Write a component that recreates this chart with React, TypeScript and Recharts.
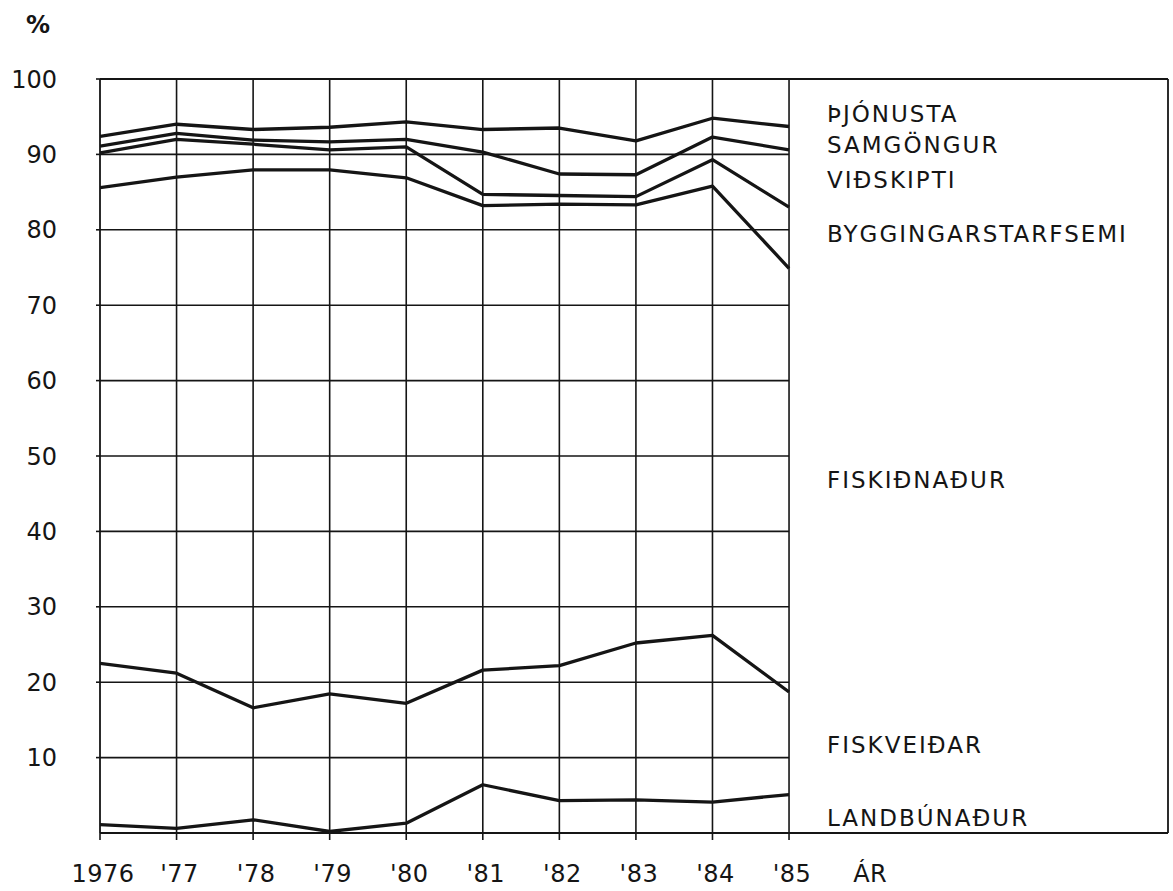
import React from 'react';
import { LineChart, Line, XAxis, YAxis, ReferenceLine } from 'recharts';

// Years on the horizontal axis
const years = [1976, 1977, 1978, 1979, 1980, 1981, 1982, 1983, 1984, 1985];
const xTickLabels = ['1976', "'77", "'78", "'79", "'80", "'81", "'82", "'83", "'84", "'85"];
const xAxisTitle = 'ÁR';
const yAxisTitle = '%';
const yTicks = [10, 20, 30, 40, 50, 60, 70, 80, 90, 100];
const gridYValues = [10, 20, 30, 40, 50, 60, 70, 80, 90];

// Cumulative shares (%) — each line is the upper boundary of the named sector
const cumLandbunadur = [1.1, 0.6, 1.75, 0.2, 1.3, 6.4, 4.3, 4.4, 4.1, 5.1];
const cumFiskveidar = [22.5, 21.2, 16.6, 18.45, 17.2, 21.6, 22.2, 25.2, 26.2, 18.7];
const cumFiskidnadur = [85.6, 87.0, 87.95, 87.95, 86.9, 83.2, 83.4, 83.3, 85.8, 74.9];
const cumByggingar = [90.2, 92.0, 91.35, 90.6, 91.0, 84.7, 84.55, 84.4, 89.3, 83.0];
const cumVidskipti = [91.1, 92.8, 91.9, 91.65, 92.0, 90.3, 87.4, 87.3, 92.3, 90.6];
const cumSamgongur = [92.4, 94.0, 93.3, 93.6, 94.3, 93.3, 93.5, 91.8, 94.8, 93.7];

// Sector names (top to bottom)
const sectorLabels = ['ÞJÓNUSTA', 'SAMGÖNGUR', 'VIÐSKIPTI', 'BYGGINGARSTARFSEMI', 'FISKIÐNAÐUR', 'FISKVEIÐAR', 'LANDBÚNAÐUR'];

const seriesKeys = ['cumLandbunadur', 'cumFiskveidar', 'cumFiskidnadur', 'cumByggingar', 'cumVidskipti', 'cumSamgongur'];
const seriesValues = [cumLandbunadur, cumFiskveidar, cumFiskidnadur, cumByggingar, cumVidskipti, cumSamgongur];

const data = years.map((year, i) => {
  const row: Record<string, number> = { year };
  seriesKeys.forEach((k, j) => {
    row[k] = seriesValues[j][i];
  });
  return row;
});

const INK = '#151515';
const FONT = '"DejaVu Sans", sans-serif';
const X_MAX = 1989.95;
const AR_POS = 1986.06;

// label layout (baselines in px), separate from data
const labelX = 827;
const labelBaselines = [122, 153, 188, 241.5, 488, 753, 826];

function XTick(props: any) {
  const { x, y, payload } = props;
  const idx = years.indexOf(payload.value);
  const isYear = idx >= 0;
  return (
    <g>
      {isYear && <line x1={x} x2={x} y1={y} y2={y + 7} stroke={INK} strokeWidth={1.6} />}
      <text
        x={isYear ? x + 3 : x}
        y={y + 49}
        textAnchor="middle"
        fontSize={24}
        fontFamily={FONT}
        fill={INK}
        letterSpacing={0.5}
      >
        {isYear ? xTickLabels[idx] : xAxisTitle}
      </text>
    </g>
  );
}

export default function App() {
  return (
    <div style={{ position: 'absolute', left: 0, top: 0, width: 1173, height: 891, background: '#fff' }}>
      <LineChart
        width={1173}
        height={891}
        data={data}
        margin={{ top: 79, right: 5, bottom: 0, left: 0 }}
      >
        <XAxis
          type="number"
          dataKey="year"
          domain={[1976, X_MAX]}
          ticks={[...years, AR_POS]}
          interval={0}
          axisLine={false}
          tickLine={false}
          tickSize={0}
          tickMargin={0}
          height={58}
          tick={<XTick />}
          allowDataOverflow
        />
        <YAxis
          type="number"
          domain={[0, 100]}
          ticks={yTicks}
          interval={0}
          width={100}
          axisLine={{ stroke: INK, strokeWidth: 1.8 }}
          tickLine={{ stroke: INK, strokeWidth: 1.6 }}
          tickSize={4}
          tickMargin={39}
          tick={{ fontSize: 24, fontFamily: FONT, fill: INK }}
          allowDataOverflow
        />
        {gridYValues.map((v) => (
          <ReferenceLine
            key={'h' + v}
            segment={[{ x: 1976, y: v }, { x: 1985, y: v }]}
            stroke={INK}
            strokeWidth={1.6}
            ifOverflow="visible"
          />
        ))}
        {years.slice(1).map((yr) => (
          <ReferenceLine
            key={'v' + yr}
            segment={[{ x: yr, y: 0 }, { x: yr, y: 100 }]}
            stroke={INK}
            strokeWidth={1.6}
            ifOverflow="visible"
          />
        ))}
        <ReferenceLine y={100} stroke={INK} strokeWidth={1.8} ifOverflow="visible" />
        <ReferenceLine y={0} stroke={INK} strokeWidth={2} ifOverflow="visible" />
        <ReferenceLine x={X_MAX} stroke={INK} strokeWidth={1.8} ifOverflow="visible" />
        {seriesKeys.map((k) => (
          <Line
            key={k}
            type="linear"
            dataKey={k}
            stroke={INK}
            strokeWidth={3.3}
            dot={false}
            activeDot={false}
            strokeLinejoin="round"
            isAnimationActive={false}
          />
        ))}
      </LineChart>
      <svg
        width={1173}
        height={891}
        style={{ position: 'absolute', left: 0, top: 0, pointerEvents: 'none' }}
      >
        <text x={26} y={33} fontSize={24} fontWeight="bold" fontFamily={FONT} fill={INK}>
          {yAxisTitle}
        </text>
        {sectorLabels.map((lab, i) => (
          <text
            key={lab}
            x={labelX}
            y={labelBaselines[i]}
            fontSize={23}
            fontFamily={FONT}
            fill={INK}
            letterSpacing={2}
          >
            {lab}
          </text>
        ))}
      </svg>
    </div>
  );
}
